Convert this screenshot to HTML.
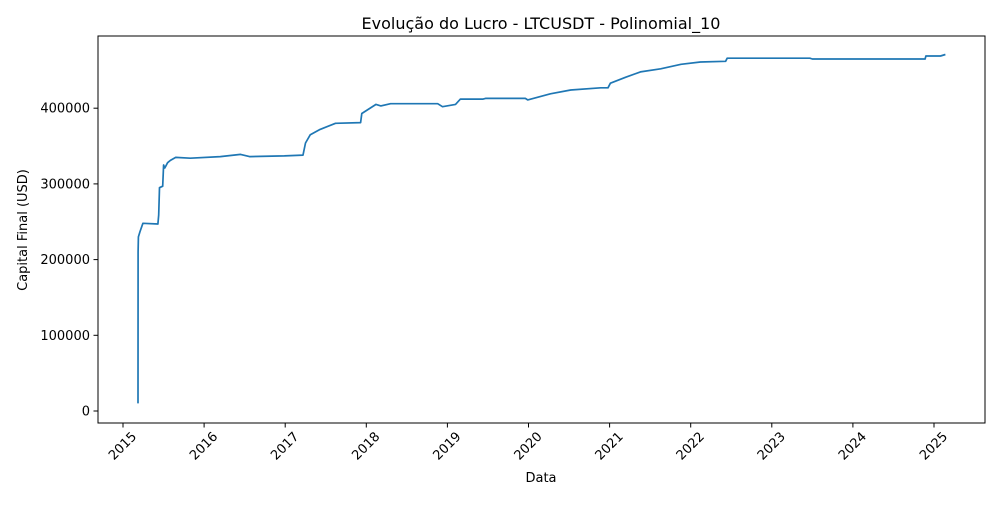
<!DOCTYPE html>
<html><head><meta charset="utf-8"><style>
body{margin:0;background:#fff;}
svg text{font-family:"DejaVu Sans","Liberation Sans",sans-serif;fill:#000;}
</style></head><body>
<svg id="chart" width="1000" height="500" xmlns="http://www.w3.org/2000/svg">
<rect width="1000" height="500" fill="#fff"/>
<text x="541" y="29" font-size="16" text-anchor="middle">Evolução do Lucro - LTCUSDT - Polinomial_10</text>
<g id="plot"></g>
<rect x="98" y="36" width="887" height="387" fill="none" stroke="#000" stroke-width="1"/>
<text x="541" y="482" font-size="13" text-anchor="middle">Data</text>
<text transform="translate(27,230) rotate(-90)" font-size="13" text-anchor="middle">Capital Final (USD)</text>
</svg>
<script>
const yearTicks = [2015,2016,2017,2018,2019,2020,2021,2022,2023,2024,2025];
const valueTicks = [0,100000,200000,300000,400000];
const dates = [2015.185,2015.186,2015.19,2015.21,2015.245,2015.43,2015.44,2015.45,2015.49,2015.5,2015.515,2015.55,2015.585,2015.65,2015.83,2016.2,2016.45,2016.56,2016.99,2017.22,2017.25,2017.31,2017.43,2017.62,2017.93,2017.945,2018.12,2018.18,2018.3,2018.88,2018.94,2019.1,2019.16,2019.44,2019.47,2019.96,2019.99,2020.27,2020.52,2020.89,2020.98,2021.01,2021.2,2021.38,2021.63,2021.88,2022.12,2022.43,2022.45,2023.47,2023.5,2024.89,2024.9,2025.08,2025.14];
const values = [10000,210000,230000,237000,248000,247000,259000,295000,297000,325000,321000,328000,331000,335000,334000,336000,339000,336000,337000,338000,354000,365000,372000,380000,381000,393000,405000,403000,406000,406000,402000,405000,412000,412000,413000,413000,411000,419000,424000,427000,427000,433000,441000,448000,452000,458000,461000,462000,466000,466000,465000,465000,469000,469000,471000];
const x0=123, pxPerYear=81.1, y0=411, pxPerVal=0.000757;
const xs = d => x0 + (d-2015)*pxPerYear;
const ys = v => y0 - v*pxPerVal;
const NS="http://www.w3.org/2000/svg";
const g=document.getElementById('plot');
function mk(t,a){const e=document.createElementNS(NS,t);for(const k in a)e.setAttribute(k,a[k]);g.appendChild(e);return e;}
yearTicks.forEach(yr=>{
  const x=xs(yr);
  const tk=mk('line',{x1:x,x2:x,y1:423,y2:427.5,stroke:'#000'});
  
  
  const t=mk('text',{transform:`translate(${x+11},${434}) rotate(-45)`,'font-size':13,'text-anchor':'end',dy:'0.35em'});
  t.textContent=yr;
  
  
});
valueTicks.forEach(v=>{
  const y=ys(v);
  const tk=mk('line',{x1:93.5,x2:98,y1:y,y2:y,stroke:'#000'});
  
  
  const t=mk('text',{x:90,y:y+4.5,'font-size':13,'text-anchor':'end'});
  t.textContent=v;
  
  
});
const pts=dates.map((d,i)=>xs(d).toFixed(1)+','+ys(values[i]).toFixed(1)).join(' ');
const line=mk('polyline',{points:pts,fill:'none',stroke:'#1f77b4','stroke-width':1.7,'stroke-linejoin':'round'});


</script>
</body></html>
